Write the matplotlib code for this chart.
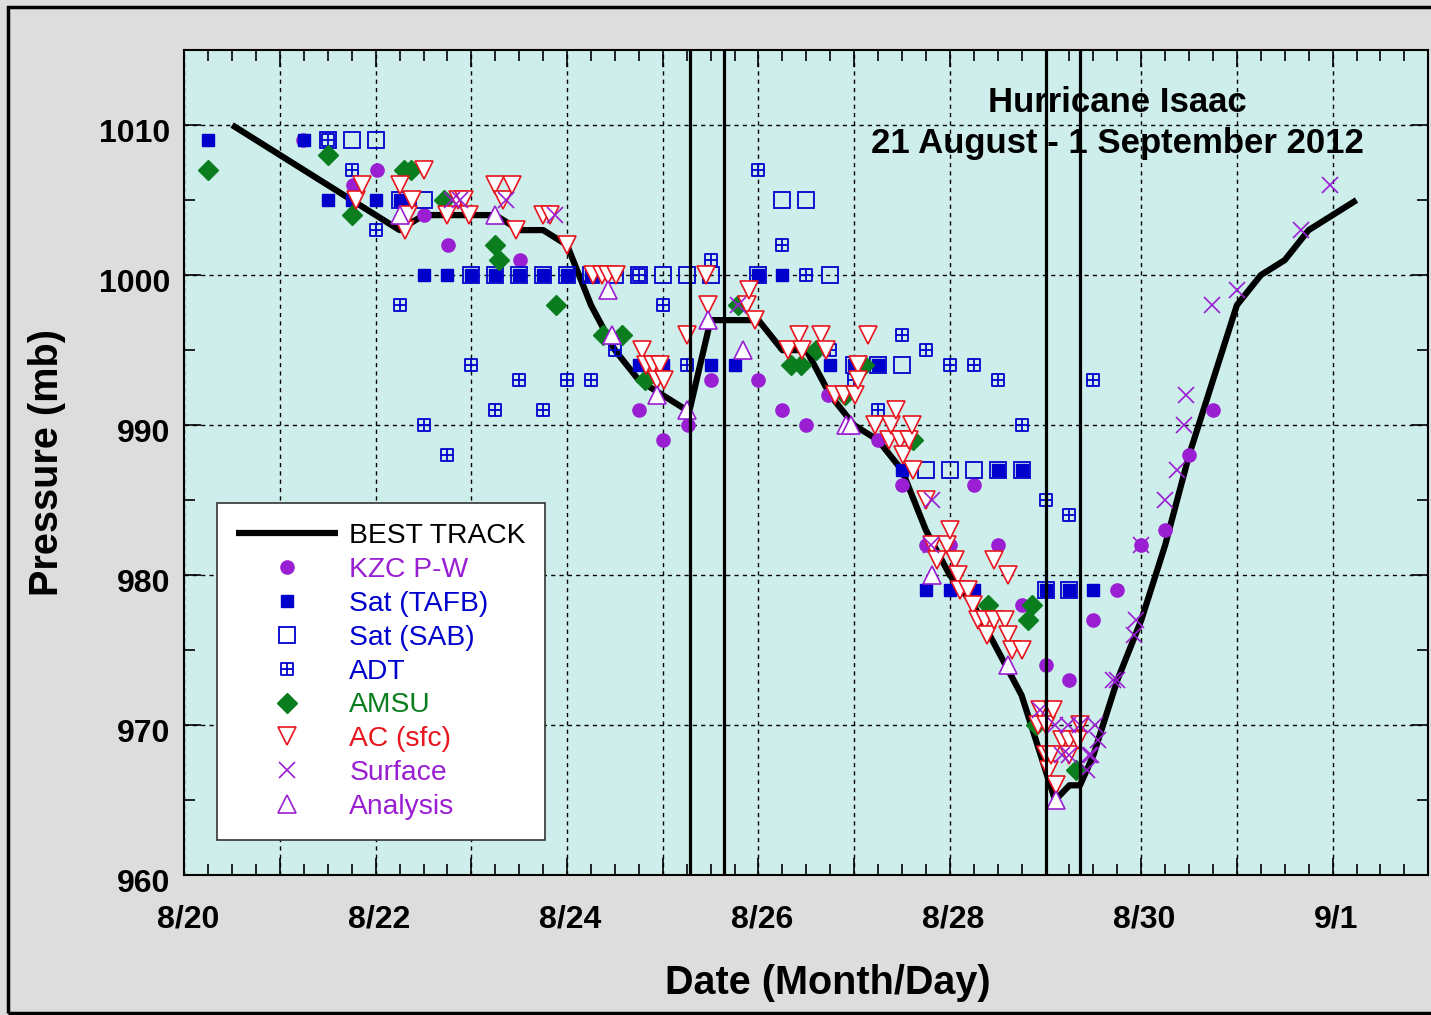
import matplotlib
matplotlib.use("Agg")
import matplotlib.pyplot as plt
from matplotlib.path import Path
from matplotlib.patches import Rectangle
from matplotlib.transforms import ScaledTranslation
from matplotlib.ticker import MultipleLocator, FixedLocator, FixedFormatter

plt.rcParams['font.family'] = ['Liberation Sans', 'DejaVu Sans']

# time axis: days since 20 Aug 2012 00 UTC
best_day = [0.5, 0.75, 1.0, 1.25, 1.5, 1.75, 2.0, 2.25, 2.5, 2.75, 3.0, 3.25, 3.5, 3.75,
            4.0, 4.25, 4.5, 4.75, 5.0, 5.25, 5.28, 5.5, 5.75, 6.0, 6.25, 6.5, 6.75, 7.0,
            7.25, 7.5, 7.75, 8.0, 8.25, 8.5, 8.75, 9.0, 9.1, 9.25, 9.36, 9.5, 9.75, 10.0,
            10.25, 10.5, 10.75, 11.0, 11.25, 11.5, 11.75, 12.0, 12.25]
best_mb = [1010, 1009, 1008, 1007, 1006, 1005, 1004, 1003, 1004, 1004, 1004, 1004, 1003, 1003,
           1002, 998, 995, 993, 992, 991, 991, 997, 997, 997, 995, 995, 992, 990,
           989, 987, 983, 980, 978, 975, 972, 967, 965, 966, 966, 968, 973, 977,
           982, 988, 993, 998, 1000, 1001, 1003, 1004, 1005]

landfall_day = [5.28, 5.635, 9.0, 9.36]

kzc_day = [1.24, 1.76, 2.01, 2.5, 2.76, 3.51, 4.75, 5.0, 5.26, 5.5, 6.0, 6.25, 6.5, 6.73,
           7.25, 7.5, 7.75, 8.0, 8.25, 8.5, 8.75, 9.0, 9.25, 9.5, 9.75, 10.0, 10.25, 10.5, 10.75]
kzc_mb = [1009, 1006, 1007, 1004, 1002, 1001, 991, 989, 990, 993, 993, 991, 990, 992,
          989, 986, 982, 982, 986, 982, 978, 974, 973, 977, 979, 982, 983, 988, 991]

tafb_day = [0.25, 1.25, 1.5, 1.75, 2.0, 2.25, 2.5, 2.75, 3.0, 3.25, 3.5, 3.75, 4.0, 4.25,
            4.75, 5.0, 5.5, 5.75, 6.0, 6.25, 6.75, 7.0, 7.25, 7.5, 7.75, 8.0, 8.25, 8.5,
            8.75, 9.0, 9.25, 9.5]
tafb_mb = [1009, 1009, 1005, 1005, 1005, 1005, 1000, 1000, 1000, 1000, 1000, 1000, 1000, 1000,
           994, 994, 994, 994, 1000, 1000, 994, 994, 994, 987, 979, 979, 979, 987,
           987, 979, 979, 979]

sab_day = [1.5, 1.75, 2.0, 2.25, 2.5, 3.0, 3.25, 3.5, 3.75, 4.0, 4.25, 4.5, 4.75, 5.0,
           5.25, 5.5, 6.0, 6.25, 6.5, 6.75, 7.0, 7.25, 7.5, 7.75, 8.0, 8.25, 8.5, 8.75,
           9.0, 9.25]
sab_mb = [1009, 1009, 1009, 1005, 1005, 1000, 1000, 1000, 1000, 1000, 1000, 1000, 1000, 1000,
          1000, 1000, 1000, 1005, 1005, 1000, 994, 994, 994, 987, 987, 987, 987, 987,
          979, 979]

adt_day = [1.5, 1.75, 2.0, 2.25, 2.5, 2.75, 3.0, 3.25, 3.5, 3.75, 4.0, 4.25, 4.5, 4.75,
           5.0, 5.25, 5.5, 6.0, 6.25, 6.5, 6.75, 7.0, 7.25, 7.5, 7.75, 8.0, 8.25, 8.5,
           8.75, 9.0, 9.25, 9.5]
adt_mb = [1009, 1007, 1003, 998, 990, 988, 994, 991, 993, 991, 993, 993, 995, 1000,
          998, 994, 1001, 1007, 1002, 1000, 995, 993, 991, 996, 995, 994, 994, 993,
          990, 985, 984, 993]

amsu_day = [0.25, 1.5, 1.75, 2.3, 2.37, 2.71, 3.25, 3.29, 3.88, 4.38, 4.57, 4.81, 5.79,
            6.34, 6.44, 6.6, 6.9, 7.1, 7.62, 8.4, 8.82, 8.86, 8.9, 9.32]
amsu_mb = [1007, 1008, 1004, 1007, 1007, 1005, 1002, 1001, 998, 996, 996, 993, 998,
           994, 994, 995, 992, 994, 989, 978, 977, 978, 970, 967]

ac_day = [1.79, 1.86, 2.25, 2.31, 2.34, 2.38, 2.5, 2.75, 2.86, 2.92, 2.97, 3.25, 3.33, 3.42,
          3.47, 3.75, 3.82, 4.0, 4.27, 4.36, 4.43, 4.51, 4.78, 4.83, 4.9, 4.97, 4.94, 5.01,
          5.25, 5.45, 5.47, 5.88, 5.9, 5.96, 6.31, 6.42, 6.46, 6.65, 6.71, 6.8, 6.89, 7.01,
          7.04, 7.04, 7.14, 7.22, 7.36, 7.39, 7.44, 7.48, 7.51, 7.57, 7.6, 7.61, 7.75, 7.81,
          7.87, 7.97, 8.0, 8.05, 8.09, 8.11, 8.19, 8.24, 8.29, 8.37, 8.39, 8.46, 8.46, 8.58,
          8.61, 8.61, 8.65, 8.75, 8.92, 8.94, 9.01, 9.01, 9.04, 9.06, 9.08, 9.11, 9.17, 9.25,
          9.25, 9.34, 9.36]
ac_mb = [1005, 1006, 1006, 1003, 1004, 1005, 1007, 1004, 1005, 1005, 1004, 1006, 1005, 1006,
         1003, 1004, 1004, 1002, 1000, 1000, 1000, 1000, 995, 994, 994, 994, 993, 993,
         996, 1000, 998, 998, 999, 997, 995, 996, 995, 996, 995, 992, 992, 992,
         994, 993, 996, 990, 989, 990, 991, 989, 988, 989, 990, 987, 985, 982,
         981, 982, 983, 981, 980, 979, 979, 978, 977, 977, 976, 977, 981, 977,
         976, 980, 975, 975, 970, 971, 970, 968, 967, 968, 971, 966, 969, 969,
         968, 969, 970]

sfc_day = [2.8, 2.88, 3.36, 3.87, 5.79, 7.81, 7.8, 8.94, 9.1, 9.24, 9.36, 9.52, 9.55, 9.17,
           9.25, 9.45, 9.48, 9.43, 9.7, 9.75, 9.92, 9.95, 10.0, 10.25, 10.37, 10.45, 10.47,
           10.74, 11.0, 11.67, 11.97]
sfc_mb = [1005, 1005, 1005, 1004, 998, 985, 982, 971, 970, 970, 970, 970, 969, 968,
          968, 968, 968, 967, 973, 973, 976, 977, 982, 985, 987, 990, 992,
          998, 999, 1003, 1006]

ana_day = [2.25, 3.25, 4.43, 4.47, 4.94, 5.25, 5.47, 5.84, 6.92, 6.97, 7.81, 8.61, 9.11]
ana_mb = [1004, 1004, 999, 996, 992, 991, 997, 995, 990, 990, 980, 974, 965]

xtick_labels = ['8/20', '', '8/22', '', '8/24', '', '8/26', '', '8/28', '', '8/30', '', '9/1', '']

PURPLE = '#9a1ed2'
BLUE = '#0000cd'
GREEN = '#0a7d1e'
RED = '#e8141e'

# square with a cross inside (ADT symbol)
adt_marker = Path([(-1, -1), (1, -1), (1, 1), (-1, 1), (-1, -1),
                   (0, -1), (0, 1), (-1, 0), (1, 0)],
                  [Path.MOVETO, Path.LINETO, Path.LINETO, Path.LINETO, Path.CLOSEPOLY,
                   Path.MOVETO, Path.LINETO, Path.MOVETO, Path.LINETO])

fig = plt.figure(figsize=(14.31, 10.15), dpi=100, facecolor='#dcdddc')
ax = fig.add_axes([0.1288, 0.1376, 0.8693, 0.8131], facecolor='#cdeeea')
fig.patches.append(Rectangle((0.0058, 0.002), 1.2, 0.991, transform=fig.transFigure,
                             fill=False, ec='black', lw=2.5, zorder=0))

ax.plot(best_day, best_mb, color='black', lw=4.5, solid_capstyle='butt', zorder=2,
        label='BEST TRACK')
ax.plot(kzc_day, kzc_mb, 'o', ls='none', ms=9.5, color=PURPLE, mec=PURPLE, zorder=3,
        label='KZC P-W')
ax.plot(tafb_day, tafb_mb, 's', ls='none', ms=8.5, color=BLUE, mec=BLUE, zorder=4,
        label='Sat (TAFB)')
ax.plot(sab_day, sab_mb, 's', ls='none', ms=12, mfc='none', mec=BLUE, mew=1.3, zorder=4,
        label='Sat (SAB)')
ax.plot(adt_day, adt_mb, marker=adt_marker, ls='none', ms=8.5, mfc='none', mec=BLUE,
        mew=1.3, zorder=5, label='ADT')
ax.plot(amsu_day, amsu_mb, 'D', ls='none', ms=10, color=GREEN, mec=GREEN, zorder=5,
        label='AMSU')
ax.plot(ac_day, ac_mb, 'v', ls='none', ms=13, mfc='white', mec=RED, mew=1.2, zorder=6,
        label='AC (sfc)')
ax.plot(sfc_day, sfc_mb, 'x', ls='none', ms=12, color=PURPLE, mew=1.2, zorder=7,
        label='Surface')
ax.plot(ana_day, ana_mb, '^', ls='none', ms=13, mfc='white', mec=PURPLE, mew=1.2, zorder=7,
        label='Analysis')

for d in landfall_day:
    ax.axvline(d, color='black', lw=2.3, zorder=20)

ax.set_xlim(0, 13)
ax.set_ylim(960, 1015)
ax.xaxis.set_major_locator(FixedLocator(range(14)))
ax.xaxis.set_major_formatter(FixedFormatter(xtick_labels))
ax.xaxis.set_minor_locator(MultipleLocator(0.25))
ax.yaxis.set_major_locator(FixedLocator([960, 970, 980, 990, 1000, 1010]))
ax.yaxis.set_minor_locator(MultipleLocator(5))
ax.tick_params(which='both', direction='in', top=True, right=True, color='black')
ax.tick_params(which='major', length=12, width=1.2, labelsize=23, pad=10)
ax.tick_params(axis='x', which='major', pad=21)
ax.tick_params(which='minor', length=8, width=1.2)
for lab in ax.get_xticklabels():
    lab.set_fontweight('bold')
    lab.set_transform(lab.get_transform() + ScaledTranslation(2.5 / 72, 0, fig.dpi_scale_trans))
for lab in ax.get_yticklabels():
    lab.set_fontweight('bold')
    lab.set_transform(lab.get_transform() + ScaledTranslation(0, -3.6 / 72, fig.dpi_scale_trans))
ax.grid(True, which='major', color='black', ls=(0, (3, 3)), lw=1.0)
for sp in ax.spines.values():
    sp.set_linewidth(1.5)

ax.set_xlabel('Date (Month/Day)', fontsize=28.5, fontweight='bold')
ax.xaxis.set_label_coords(0.5176, -0.108)
ax.set_ylabel('Pressure (mb)', fontsize=28.5, fontweight='bold', labelpad=24)

ax.text(0.75, 0.936, 'Hurricane Isaac', transform=ax.transAxes, ha='center', va='center',
        fontsize=25, fontweight='bold', zorder=8)
ax.text(0.75, 0.887, '21 August - 1 September 2012', transform=ax.transAxes, ha='center',
        va='center', fontsize=25, fontweight='bold', zorder=8)

leg = ax.legend(loc='lower left', bbox_to_anchor=(0.026, 0.043), borderaxespad=0,
                fontsize=20.3, numpoints=1, handlelength=3.6, handletextpad=0.4,
                labelspacing=0.28, borderpad=0.7, fancybox=False, framealpha=1,
                edgecolor='#333333', facecolor='white')
leg.get_frame().set_linewidth(1.2)
leg.set_zorder(9)
text_colors = ['black', PURPLE, BLUE, BLUE, BLUE, GREEN, RED, PURPLE, PURPLE]
for t, c in zip(leg.get_texts(), text_colors):
    t.set_color(c)

fig.savefig('out.png', dpi=100, facecolor=fig.get_facecolor())
